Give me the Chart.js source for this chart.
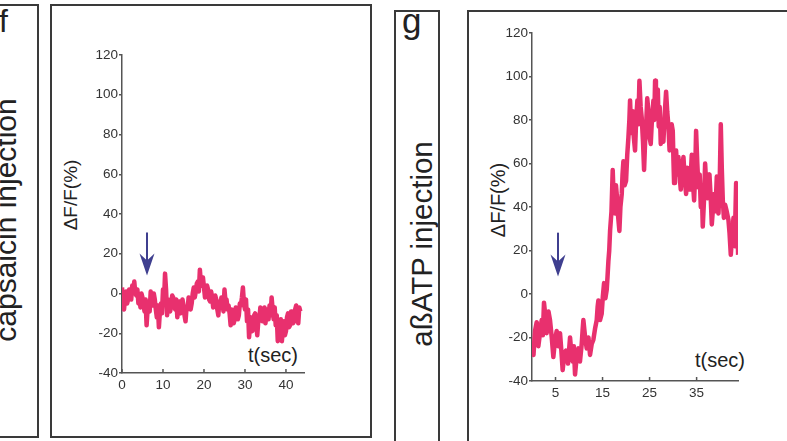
<!DOCTYPE html>
<html>
<head>
<meta charset="utf-8">
<script src="https://cdn.jsdelivr.net/npm/chart.js@4.4.1/dist/chart.umd.min.js"></script>
<style>
  html, body { margin:0; padding:0; background:#fff; }
  body { width:787px; height:441px; position:relative; overflow:hidden; font-family:"Liberation Sans", Arial, sans-serif; color:#222; }
  .box { position:absolute; border:2px solid #3a3a3a; box-sizing:border-box; }
  .t { position:absolute; white-space:nowrap; line-height:1; }
  .rot { transform:translate(-50%,-50%) rotate(-90deg); }
  canvas { position:absolute; }
</style>
</head>
<body>
<!-- panel f frames -->
<div class="box" style="left:-10px; top:4px; width:49px; height:434px;"></div>
<div class="box" style="left:50px; top:4px; width:322px; height:434px;"></div>
<!-- panel g frames -->
<div class="box" style="left:394px; top:10px; width:46px; height:440px;"></div>
<div class="box" style="left:467px; top:10px; width:330px; height:440px;"></div>

<div class="t" style="left:-1px; top:5px; font-size:32px;">f</div>
<div class="t" style="left:402px; top:3px; font-size:35px;">g</div>
<div class="t rot" style="left:5.6px; top:220px; font-size:30px;">capsaicin injection</div>
<div class="t rot" style="left:421.6px; top:244px; font-size:29.5px;">aßATP injection</div>
<div class="t rot" style="left:70.4px; top:195px; font-size:19px;">ΔF/F(%)</div>
<div class="t rot" style="left:498px; top:200px; font-size:20px;">ΔF/F(%)</div>
<div class="t" style="left:248px; top:345px; font-size:20px;">t(sec)</div>
<div class="t" style="left:695px; top:350px; font-size:20px;">t(sec)</div>

<canvas id="cf" width="317" height="427" style="left:52px; top:7px;"></canvas>
<canvas id="cg" width="318" height="429" style="left:469px; top:12px;"></canvas>

<script>
// ---------- data: panel f (capsaicin injection) ----------
const fTime = [0,0.25,0.5,0.75,1,1.25,1.5,1.75,2,2.25,2.5,2.75,3,3.25,3.5,3.75,4,4.25,4.5,4.75,
  5,5.25,5.5,5.75,6,6.25,6.5,6.75,7,7.25,7.5,7.75,8,8.25,8.5,8.75,9,9.25,9.5,9.75,
  10,10.25,10.5,10.75,11,11.25,11.5,11.75,12,12.25,12.5,12.75,13,13.25,13.5,13.75,14,14.25,14.5,14.75,
  15,15.25,15.5,15.75,16,16.25,16.5,16.75,17,17.25,17.5,17.75,18,18.25,18.5,18.75,19,19.25,19.5,19.75,
  20,20.25,20.5,20.75,21,21.25,21.5,21.75,22,22.25,22.5,22.75,23,23.25,23.5,23.75,24,24.25,24.5,24.75,
  25,25.25,25.5,25.75,26,26.25,26.5,26.75,27,27.25,27.5,27.75,28,28.25,28.5,28.75,29,29.25,29.5,29.75,
  30,30.25,30.5,30.75,31,31.25,31.5,31.75,32,32.25,32.5,32.75,33,33.25,33.5,33.75,34,34.25,34.5,34.75,
  35,35.25,35.5,35.75,36,36.25,36.5,36.75,37,37.25,37.5,37.75,38,38.25,38.5,38.75,39,39.25,39.5,39.75,
  40,40.25,40.5,40.75,41,41.25,41.5,41.75,42,42.25,42.5,42.75,43,43.25,43.5];
const fValues = [3,-4,-8,-2,1,-5,-3,2,0,-3,4,1,6,0,-1,2,-5,-1,-7,0,
  -2,-6,-9,-3,-16,-8,-4,-9,1,-3,-6,0,-3,-8,-12,-6,-17,-9,-5,-10,
  2,-4,10,2,-11,-3,-4,-9,-6,-1,-2,-7,-8,-3,-12,-6,-4,-10,-9,-3,
  -6,-11,-14,-7,-8,-2,-3,-8,-5,0,3,-2,1,5,6,1,12,5,4,8,
  3,-2,-1,4,2,-3,-4,1,-2,-7,-6,-1,-3,-8,-11,-4,-7,-2,-4,-9,
  2,-4,-3,-8,-6,-10,-16,-8,-10,-15,-13,-7,-8,-13,-11,-5,-6,-2,3,-5,
  -8,-3,-14,-8,-22,-15,-12,-19,-18,-11,-10,-16,-21,-14,-13,-7,-9,-14,-12,-7,
  -15,-10,-8,-13,-6,-11,-2,-8,-13,-7,-16,-11,-24,-15,-20,-13,-24,-18,-14,-21,
  -19,-12,-10,-17,-16,-9,-9,-15,-14,-8,-6,-11,-15,-7,-9];
const fXTicks = [0,10,20,30,40];
const fArrow = [6.1, 30.7, 9.1];   // time, top value, tip value

// ---------- data: panel g (aßATP injection) ----------
const gTime = [0,0.32,0.64,1.0,1.35,1.7,2.06,2.3,2.55,2.83,3.12,3.5,3.83,4.2,4.54,4.9,5.25,5.6,5.96,6.24,
  6.52,6.9,7.23,7.66,8.09,8.37,8.65,8.9,9.15,9.5,9.86,10.2,10.57,10.75,10.92,11.3,11.63,12.0,12.34,12.7,
  13.05,13.4,13.76,13.95,14.11,14.46,14.82,15.07,15.32,15.6,15.89,16.06,16.24,16.42,16.6,16.9,17.16,17.4,17.66,17.85,
  18.01,18.3,18.58,18.8,19.08,19.25,19.43,19.7,20.0,20.25,20.5,20.7,20.85,21.1,21.42,21.65,21.91,22.15,22.41,22.6,
  22.84,23.1,23.33,23.6,23.83,24.05,24.26,24.5,24.75,25.0,25.25,25.5,25.82,26.0,26.17,26.35,26.52,26.75,26.95,27.15,
  27.38,27.65,27.94,28.2,28.51,28.75,29.01,29.25,29.5,29.7,29.93,30.07,30.21,30.4,30.64,30.9,31.13,31.4,31.63,31.9,
  32.2,32.5,32.77,33.0,33.26,33.6,33.97,34.2,34.47,34.7,34.89,35.15,35.39,35.65,35.89,36.1,36.31,36.55,36.81,37.05,
  37.3,37.5,37.73,38.0,38.23,38.5,38.72,39.0,39.29,39.47,39.65,39.9,40.14,40.35,40.57,40.8,41.06,41.4,41.77,42.0,
  42.27,42.55,42.84,43.1,43.4,43.6,43.83];
const gValues = [-22,-28,-17,-13,-24,-18,-12,-19,-4,-10,-18,-8,-12,-20,-29,-21,-17,-24,-18,-26,
  -35,-27,-26,-32,-20,-27,-31,-24,-37,-29,-25,-31,-23,-17,-12,-20,-25,-20,-28,-23,
  -21,-16,-12,-6,-3,-12,-9,-1,5,-2,2,8,15,20,29,38,57,42,37,50,
  46,36,29,40,46,55,61,50,52,64,72,80,89,74,84,72,66,80,89,78,
  98,86,81,70,57,70,77,90,84,72,69,80,89,80,98,85,89,94,77,86,
  69,80,70,82,93,84,77,66,67,78,75,62,51,60,66,55,63,54,48,58,
  63,52,46,58,55,48,64,52,43,56,75,60,49,55,40,48,31,42,60,50,
  44,52,55,44,32,40,46,38,54,45,37,50,78,58,43,35,41,38,34,28,
  18,27,35,22,51,34,18];
const gXTicks = [5,15,25,35];
const gArrow = [5.53, 28.2, 8.0];

const yTickValues = [-40,-20,0,20,40,60,80,100,120];

// ---------- styling ----------
const LINE = '#E8306E';
const AXIS = '#555555';
const TICKTXT = '#333333';
const ARROW = '#3F3F8F';
const FONT = '"Liberation Sans", Arial, sans-serif';

const annot = {
  id: 'annot',
  afterDatasetsDraw(chart, args, opts) {
    const ctx = chart.ctx, x = chart.scales.x, y = chart.scales.y;
    const bottom = chart.chartArea.bottom;
    ctx.save();
    ctx.strokeStyle = AXIS; ctx.lineWidth = 1.5;
    x.ticks.forEach(t => {
      const px = x.getPixelForValue(t.value);
      ctx.beginPath(); ctx.moveTo(px, bottom); ctx.lineTo(px, bottom - 4); ctx.stroke();
    });
    const a = opts.arrow;
    const ax = x.getPixelForValue(a[0]);
    const top = y.getPixelForValue(a[1]);
    const tip = y.getPixelForValue(a[2]);
    ctx.strokeStyle = ARROW; ctx.fillStyle = ARROW; ctx.lineWidth = 2;
    ctx.beginPath(); ctx.moveTo(ax, top); ctx.lineTo(ax, tip - 14); ctx.stroke();
    ctx.beginPath();
    ctx.moveTo(ax, tip);
    ctx.lineTo(ax - 7.5, tip - 22);
    ctx.lineTo(ax, tip - 15);
    ctx.lineTo(ax + 7.5, tip - 22);
    ctx.closePath(); ctx.fill();
    ctx.restore();
  }
};

function makeChart(id, times, values, xTicks, xMax, arrow, yW, xH, pad, xPad) {
  const pts = times.map((t, i) => ({x: t, y: values[i]}));
  return new Chart(document.getElementById(id), {
    type: 'line',
    data: { datasets: [{ data: pts, borderColor: LINE, borderWidth: 4.5, pointRadius: 0, tension: 0, fill: false, borderJoinStyle: 'round' }] },
    options: {
      responsive: false, animation: false, devicePixelRatio: 1,
      layout: { padding: pad },
      plugins: { legend: { display: false }, tooltip: { enabled: false }, annot: { arrow: arrow } },
      scales: {
        x: {
          type: 'linear', min: 0, max: xMax,
          afterBuildTicks: s => { s.ticks = xTicks.map(v => ({value: v})); },
          afterFit: s => { s.height = xH; },
          border: { display: true, color: AXIS, width: 1.5 },
          grid: { drawOnChartArea: false, drawTicks: false, color: AXIS },
          ticks: { color: TICKTXT, font: { family: FONT, size: 13.5 }, padding: xPad, maxRotation: 0, autoSkip: false }
        },
        y: {
          type: 'linear', min: -40, max: 120,
          afterBuildTicks: s => { s.ticks = yTickValues.map(v => ({value: v})); },
          afterFit: s => { s.width = yW; },
          border: { display: true, color: AXIS, width: 1.5 },
          grid: { drawOnChartArea: false, drawTicks: true, tickLength: 3, color: AXIS, lineWidth: 1.5 },
          ticks: { color: TICKTXT, font: { family: FONT, size: 13.5 }, padding: 1 }
        }
      }
    },
    plugins: [annot]
  });
}

makeChart('cf', fTime, fValues, fXTicks, 44.4, fArrow, 70, 61, {top: 48, right: 65, bottom: 0, left: 0}, 4);
makeChart('cg', gTime, gValues, gXTicks, 43.8, gArrow, 63, 60, {top: 21, right: 49, bottom: 0, left: 0}, 4);
</script>
</body>
</html>
